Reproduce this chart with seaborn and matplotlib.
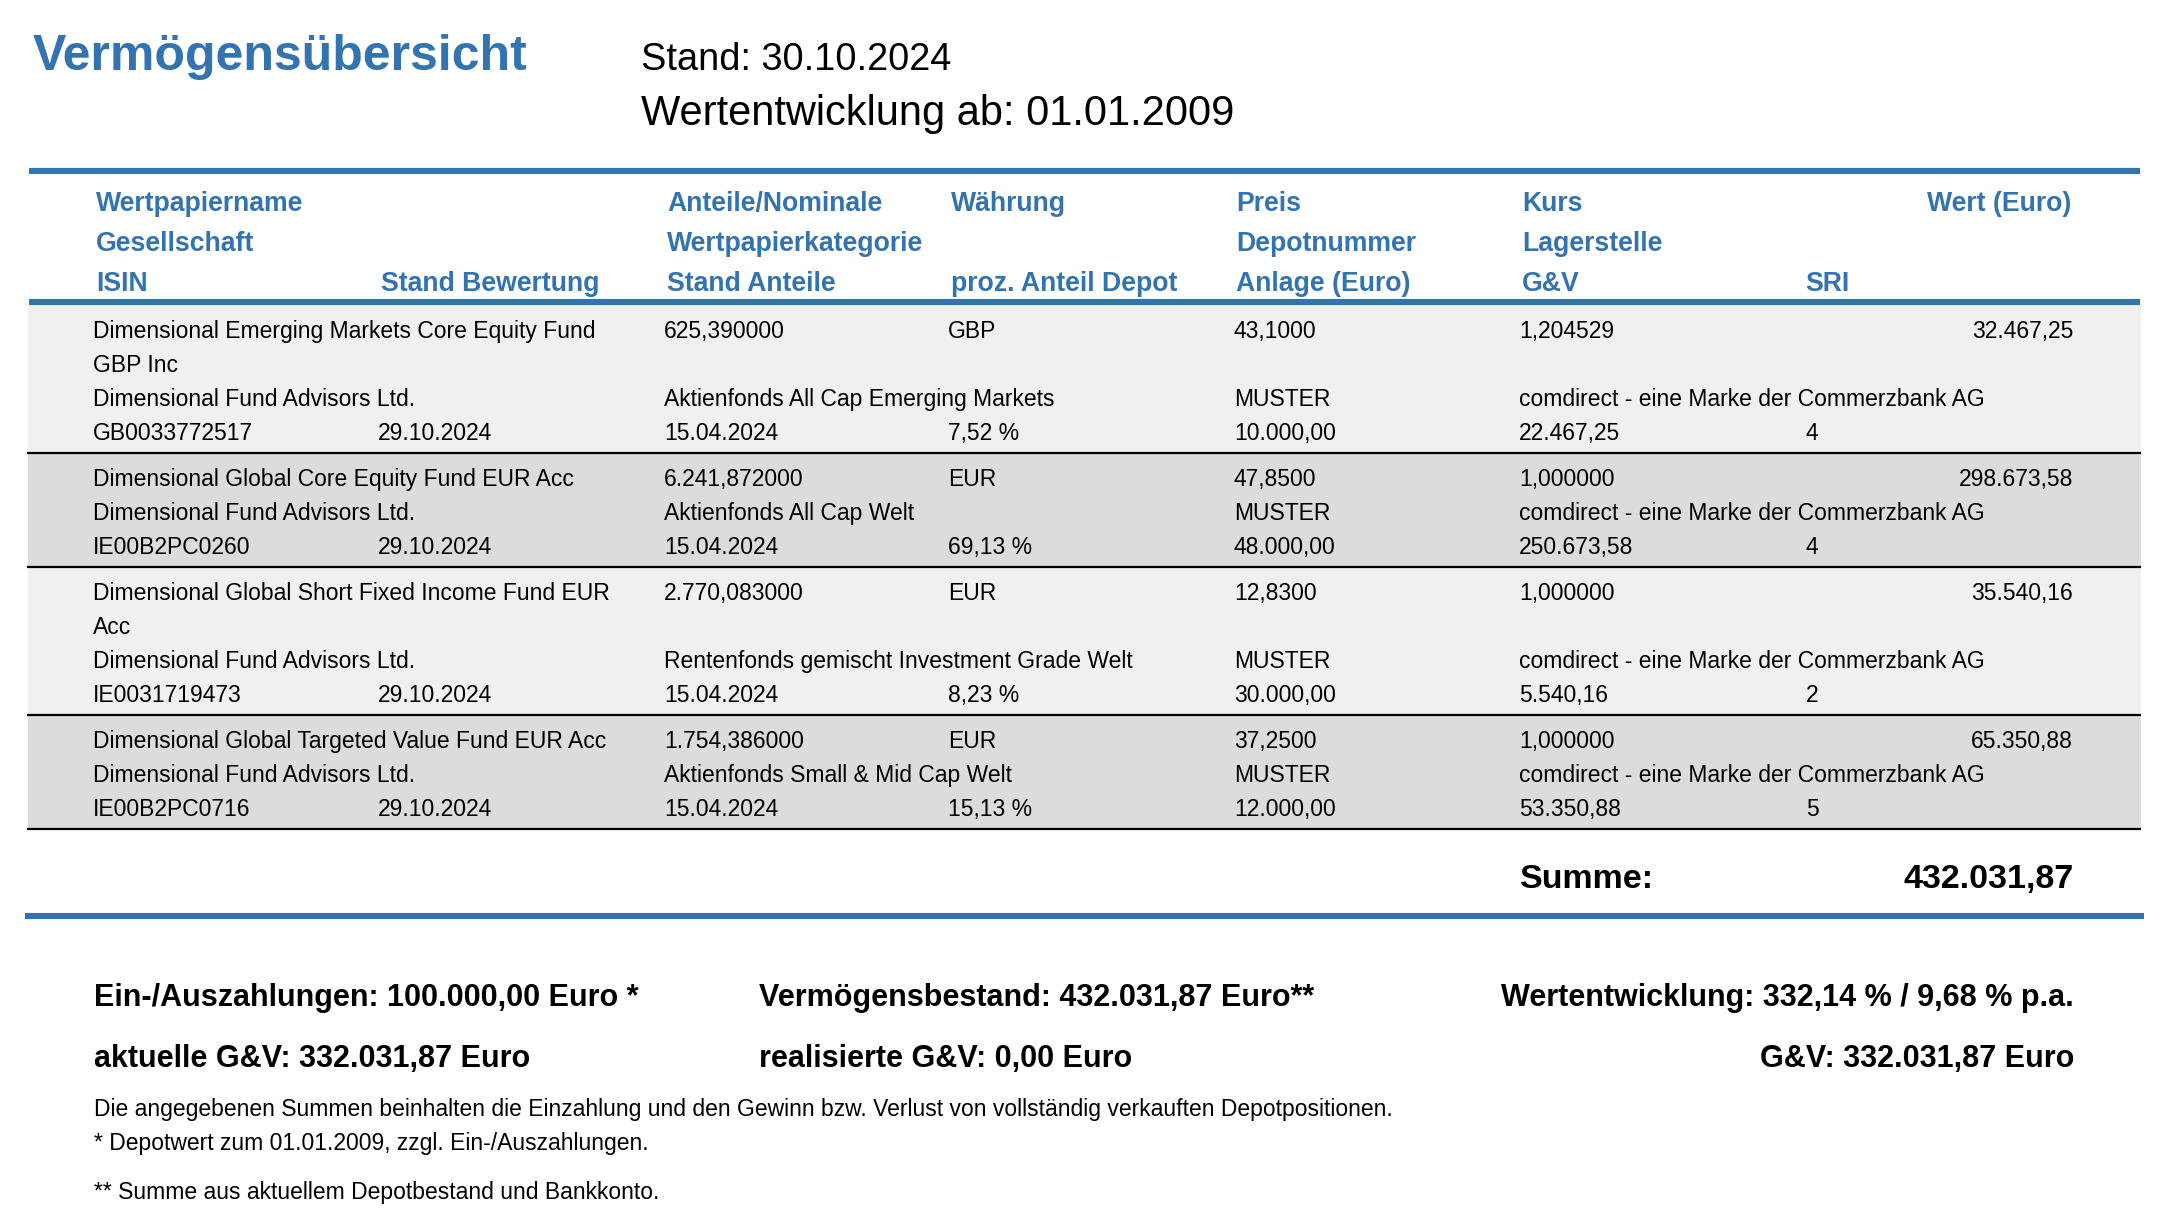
import seaborn as sns
import matplotlib.pyplot as plt

# Chart data
title = "Vermögensübersicht"
stand = "Stand: 30.10.2024"
start = "Wertentwicklung ab: 01.01.2009"

header_rows = [
    ["Wertpapiername", "", "Anteile/Nominale", "Währung", "Preis", "Kurs", ""],
    ["Gesellschaft", "", "Wertpapierkategorie", "", "Depotnummer", "Lagerstelle", ""],
    ["ISIN", "Stand Bewertung", "Stand Anteile", "proz. Anteil Depot", "Anlage (Euro)", "G&V", "SRI"],
]
header_right = "Wert (Euro)"

fund_names = [
    ["Dimensional Emerging Markets Core Equity Fund", "GBP Inc"],
    ["Dimensional Global Core Equity Fund EUR Acc"],
    ["Dimensional Global Short Fixed Income Fund EUR", "Acc"],
    ["Dimensional Global Targeted Value Fund EUR Acc"],
]
companies = ["Dimensional Fund Advisors Ltd."] * 4
isins = ["GB0033772517", "IE00B2PC0260", "IE0031719473", "IE00B2PC0716"]
bewertung = ["29.10.2024"] * 4
anteile = ["625,390000", "6.241,872000", "2.770,083000", "1.754,386000"]
kategorie = ["Aktienfonds All Cap Emerging Markets", "Aktienfonds All Cap Welt",
             "Rentenfonds gemischt Investment Grade Welt", "Aktienfonds Small & Mid Cap Welt"]
stand_anteile = ["15.04.2024"] * 4
waehrung = ["GBP", "EUR", "EUR", "EUR"]
proz_anteil = ["7,52 %", "69,13 %", "8,23 %", "15,13 %"]
preis = ["43,1000", "47,8500", "12,8300", "37,2500"]
depot = ["MUSTER"] * 4
anlage = ["10.000,00", "48.000,00", "30.000,00", "12.000,00"]
kurs = ["1,204529", "1,000000", "1,000000", "1,000000"]
lagerstelle = ["comdirect - eine Marke der Commerzbank AG"] * 4
gv = ["22.467,25", "250.673,58", "5.540,16", "53.350,88"]
sri = ["4", "4", "2", "5"]
wert = ["32.467,25", "298.673,58", "35.540,16", "65.350,88"]
summe = "432.031,87"

summary_left = ["Ein-/Auszahlungen: 100.000,00 Euro *", "aktuelle G&V: 332.031,87 Euro"]
summary_mid = ["Vermögensbestand: 432.031,87 Euro**", "realisierte G&V: 0,00 Euro"]
summary_right = ["Wertentwicklung: 332,14 % / 9,68 % p.a.", "G&V: 332.031,87 Euro"]
notes = ["Die angegebenen Summen beinhalten die Einzahlung und den Gewinn bzw. Verlust von vollständig verkauften Depotpositionen.",
         "* Depotwert zum 01.01.2009, zzgl. Ein-/Auszahlungen.",
         "** Summe aus aktuellem Depotbestand und Bankkonto."]

# Style
sns.set_theme(style="white")
plt.rcParams['font.family'] = ['Liberation Sans', 'DejaVu Sans']
blue = "#3373b0"
light = "#f0f0f0"
dark = "#dcdcdc"

W, H = 2170, 1226
fig = plt.figure(figsize=(W / 100, H / 100), dpi=100)
ax = fig.add_axes([0, 0, 1, 1])
ax.set_xlim(0, W)
ax.set_ylim(H, 0)
ax.axis("off")

# column x positions (pixels)
cols = [95, 380, 666, 950, 1235, 1521, 1804]
right_x = 2073

# Title block
ax.text(33, 70, title, fontsize=36, fontweight="bold", color=blue, va="baseline")
ax.text(641, 70, stand, fontsize=27.4, va="baseline", color="black")
ax.text(641, 125, start, fontsize=30, va="baseline", color="black")

# Header
ax.hlines(171, 29, 2140, color=blue, lw=4.4)
for i, row in enumerate(header_rows):
    yb = 211 + i * 40
    for x, lab in zip(cols, row):
        if lab:
            ax.text(x + 1, yb, lab, fontsize=19.2, fontweight="bold", color=blue, va="baseline")
ax.text(right_x - 2, 211, header_right, fontsize=19.2, fontweight="bold", color=blue,
        va="baseline", ha="right")
ax.hlines(302, 29, 2140, color=blue, lw=4.4)

# Rows
y = 305
step = 34
for k in range(len(fund_names)):
    n = len(fund_names[k]) + 2
    bottom = y + step * n + 12
    ax.axhspan(y, bottom, xmin=28 / W, xmax=2141 / W, color=light if k % 2 == 0 else dark, lw=0)
    ax.hlines(bottom, 27, 2141, color="black", lw=1.6)
    base = [y + 33 + step * i for i in range(n)]
    kw = dict(fontsize=16.5, va="baseline", color="black")
    # first line
    ax.text(cols[0] - 2, base[0], fund_names[k][0], **kw)
    ax.text(cols[2] - 2, base[0], anteile[k], **kw)
    ax.text(cols[3] - 2, base[0], waehrung[k], **kw)
    ax.text(cols[4] - 1, base[0], preis[k], **kw)
    ax.text(cols[5] - 2, base[0], kurs[k], **kw)
    ax.text(right_x, base[0], wert[k], ha="right", **kw)
    for j, extra in enumerate(fund_names[k][1:]):
        ax.text(cols[0] - 2, base[1 + j], extra, **kw)
    # company line
    ax.text(cols[0] - 2, base[n - 2], companies[k], **kw)
    ax.text(cols[2] - 2, base[n - 2], kategorie[k], **kw)
    ax.text(cols[4] - 1, base[n - 2], depot[k], **kw)
    ax.text(cols[5] - 2, base[n - 2], lagerstelle[k], **kw)
    # isin line
    ax.text(cols[0] - 2, base[n - 1], isins[k], **kw)
    ax.text(cols[1] - 2, base[n - 1], bewertung[k], **kw)
    ax.text(cols[2] - 2, base[n - 1], stand_anteile[k], **kw)
    ax.text(cols[3] - 2, base[n - 1], proz_anteil[k], **kw)
    ax.text(cols[4] - 1, base[n - 1], anlage[k], **kw)
    ax.text(cols[5] - 2, base[n - 1], gv[k], **kw)
    ax.text(cols[6] + 2, base[n - 1], sri[k], **kw)
    y = bottom

# Sum
ax.text(1520, 888, "Summe:", fontsize=24.5, fontweight="bold", va="baseline", color="black")
ax.text(right_x + 1, 888, summe, fontsize=24.5, fontweight="bold", va="baseline", ha="right", color="black")
ax.hlines(916, 25, 2144, color=blue, lw=4.4)

# Summary
for i in range(2):
    yb = 1006 + i * 61
    ax.text(94, yb, summary_left[i], fontsize=22, fontweight="bold", va="baseline", color="black")
    ax.text(759, yb, summary_mid[i], fontsize=22, fontweight="bold", va="baseline", color="black")
    ax.text(right_x + 1, yb, summary_right[i], fontsize=22, fontweight="bold", va="baseline",
            ha="right", color="black")

for yb, note in zip([1116, 1150, 1199], notes):
    ax.text(94, yb, note, fontsize=16.5, va="baseline", color="black")

fig.savefig("out.png", dpi=100, facecolor="white")
